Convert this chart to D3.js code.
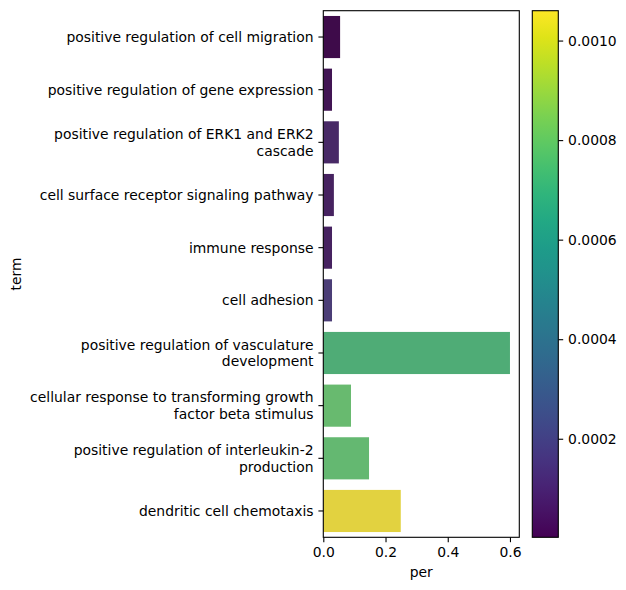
<!DOCTYPE html>
<html>
<head>
<meta charset="utf-8">
<script src="https://cdn.jsdelivr.net/npm/d3@7"></script>
<style>
  body { margin: 0; background: #fff; }
  text { font-family: "DejaVu Sans", sans-serif; fill: #000; }
</style>
</head>
<body>
<svg id="chart" width="626" height="590"></svg>
<script>
// Terms (top to bottom), bar lengths and p-values used for colour
const terms = [
  ["positive regulation of cell migration"],
  ["positive regulation of gene expression"],
  ["positive regulation of ERK1 and ERK2", "cascade"],
  ["cell surface receptor signaling pathway"],
  ["immune response"],
  ["cell adhesion"],
  ["positive regulation of vasculature", "development"],
  ["cellular response to transforming growth", "factor beta stimulus"],
  ["positive regulation of interleukin-2", "production"],
  ["dendritic cell chemotaxis"]
];
const perValues = [0.054, 0.028, 0.050, 0.034, 0.028, 0.028, 0.600, 0.089, 0.147, 0.249];
const pValues = [0.000002, 0.00003, 0.00009, 0.00007, 0.00007, 0.00016, 0.00073, 0.00079, 0.00078, 0.00106];
const xTicks = [0, 0.2, 0.4, 0.6];
const cbTicks = [0.0002, 0.0004, 0.0006, 0.0008, 0.0010];

const svg = d3.select("#chart");
const fontSize = 13.9;

// Main axes box
const plot = { left: 323.3, right: 519.3, top: 10.7, bottom: 537.3 };

const x = d3.scaleLinear()
  .domain([0, d3.max(perValues) * 1.05])
  .range([plot.left, plot.right]);

const y = d3.scaleBand()
  .domain(d3.range(terms.length))
  .range([plot.top, plot.bottom])
  .paddingInner(0.2)
  .paddingOuter(0.1);

const pExtent = d3.extent(pValues);
const colorScale = d3.scaleSequential(d3.interpolateViridis).domain(pExtent);

// seaborn-style desaturation of bar colours
function barColor(p) {
  const c = d3.hsl(colorScale(p));
  c.s *= 0.75;
  return c.formatHex();
}

// Bars
svg.append("g")
  .selectAll("rect")
  .data(perValues)
  .enter()
  .append("rect")
  .attr("x", x(0))
  .attr("y", (d, i) => y(i))
  .attr("width", d => x(d) - x(0))
  .attr("height", y.bandwidth())
  .attr("fill", (d, i) => barColor(pValues[i]));

// X axis
const xAxis = svg.append("g")
  .attr("transform", `translate(0,${plot.bottom})`)
  .call(d3.axisBottom(x).tickValues(xTicks).tickFormat(d3.format(".1f"))
    .tickSizeInner(4.9).tickSizeOuter(0).tickPadding(4.9));
xAxis.select(".domain").remove();
xAxis.selectAll("line").attr("stroke", "#000").attr("stroke-width", 1.1);
xAxis.selectAll("text").style("font-size", fontSize + "px")
  .style("font-family", "DejaVu Sans").attr("fill", "#000");

// Y axis with wrapped labels
const yAxis = svg.append("g")
  .attr("transform", `translate(${plot.left},0)`)
  .call(d3.axisLeft(y).tickFormat("").tickSizeInner(4.9).tickSizeOuter(0));
yAxis.select(".domain").remove();
yAxis.selectAll("line").attr("stroke", "#000").attr("stroke-width", 1.1);

const lineH = fontSize * 1.2;
svg.append("g")
  .selectAll("text")
  .data(terms)
  .enter()
  .append("text")
  .attr("text-anchor", "end")
  .style("font-size", fontSize + "px")
  .attr("x", plot.left - 4.9 - 4.9)
  .attr("y", (d, i) => y(i) + y.bandwidth() / 2)
  .each(function(lines) {
    const t = d3.select(this);
    const offset = -(lines.length - 1) * lineH / 2;
    lines.forEach((line, k) => {
      t.append("tspan")
        .attr("x", plot.left - 9.8)
        .attr("dy", k === 0 ? (offset + fontSize * 0.36) : lineH)
        .text(line);
    });
  });

// Frame
svg.append("rect")
  .attr("x", plot.left).attr("y", plot.top)
  .attr("width", plot.right - plot.left).attr("height", plot.bottom - plot.top)
  .attr("fill", "none").attr("stroke", "#000").attr("stroke-width", 1.1);

// Axis titles
svg.append("text")
  .attr("x", (plot.left + plot.right) / 2).attr("y", 577)
  .attr("text-anchor", "middle").style("font-size", fontSize + "px")
  .text("per");
svg.append("text")
  .attr("transform", `translate(21,${(plot.top + plot.bottom) / 2}) rotate(-90)`)
  .attr("text-anchor", "middle").style("font-size", fontSize + "px")
  .text("term");

// Colorbar
const cb = { left: 532.3, right: 558.3, top: plot.top, bottom: plot.bottom };
const cbScale = d3.scaleLinear().domain(pExtent).range([cb.bottom, cb.top]);

const grad = svg.append("defs").append("linearGradient")
  .attr("id", "viridis-grad")
  .attr("x1", "0").attr("y1", "1").attr("x2", "0").attr("y2", "0");
d3.range(0, 1.0001, 0.05).forEach(t => {
  grad.append("stop")
    .attr("offset", t)
    .attr("stop-color", d3.interpolateViridis(t));
});

svg.append("rect")
  .attr("x", cb.left).attr("y", cb.top)
  .attr("width", cb.right - cb.left).attr("height", cb.bottom - cb.top)
  .attr("fill", "url(#viridis-grad)")
  .attr("stroke", "#000").attr("stroke-width", 1.1);

const cbAxis = svg.append("g")
  .attr("transform", `translate(${cb.right},0)`)
  .call(d3.axisRight(cbScale).tickValues(cbTicks).tickFormat(d3.format(".4f"))
    .tickSizeInner(4.9).tickSizeOuter(0).tickPadding(4.9));
cbAxis.select(".domain").remove();
cbAxis.selectAll("line").attr("stroke", "#000").attr("stroke-width", 1.1);
cbAxis.selectAll("text").style("font-size", fontSize + "px")
  .style("font-family", "DejaVu Sans").attr("fill", "#000");
</script>
</body>
</html>
